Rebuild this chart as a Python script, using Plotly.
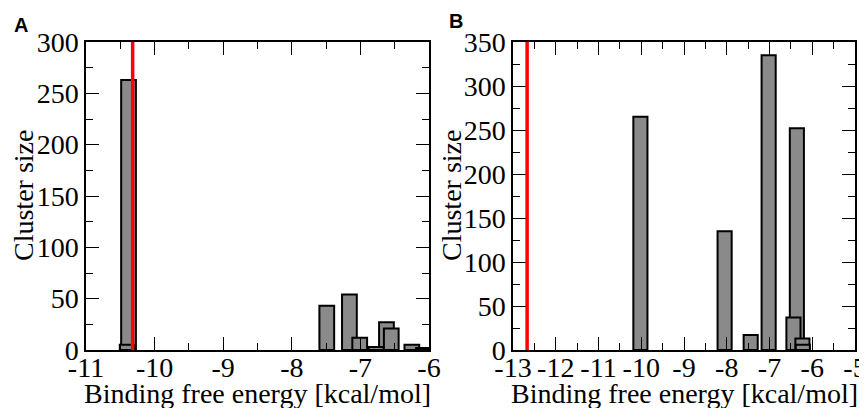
import plotly.graph_objects as go

# Panel A data
a_energy = [-10.40, -10.38, -7.49, -7.16, -7.01, -6.77, -6.62, -6.55, -6.25, -6.08]
a_size = [5, 263, 43, 54, 12, 3, 27, 21, 5, 2]
a_ref_energy = -10.32

# Panel B data
b_energy = [-10.02, -8.05, -7.44, -7.02, -6.36, -6.44, -6.23, -6.22]
b_size = [265, 135, 17, 335, 252, 37, 13, 6]
b_ref_energy = -12.67

a_xticks = [-11, -10, -9, -8, -7, -6]
b_xticks = [-13, -12, -11, -10, -9, -8, -7, -6, -5]
a_yticks = [0, 50, 100, 150, 200, 250, 300]
b_yticks = [0, 50, 100, 150, 200, 250, 300, 350]

BAR_FILL = "#8a8a8a"
FONT = "Liberation Serif"
TICK_SIZE = 28
TITLE_SIZE = 28

# page has an 8px body margin; work in page pixels and convert
OFF = 8
W = 867 - OFF
H = 408 - OFF


def px(x):
    return (x - OFF) / W


def py(y):
    return 1 - (y - OFF) / H


def order(xs, ys):
    pairs = sorted(zip(xs, ys), key=lambda p: -p[1])
    return [p[0] for p in pairs], [p[1] for p in pairs]


fig = go.Figure()

ax, ay = order(a_energy, a_size)
fig.add_trace(go.Bar(x=ax, y=ay, width=0.215, xaxis="x", yaxis="y",
                     marker=dict(color=BAR_FILL, line=dict(color="black", width=2)),
                     showlegend=False))
bx, by = order(b_energy, b_size)
fig.add_trace(go.Bar(x=bx, y=by, width=0.33, xaxis="x2", yaxis="y2",
                     marker=dict(color=BAR_FILL, line=dict(color="black", width=2)),
                     showlegend=False))

y_dom = [py(350), py(42)]

common = dict(showline=True, linecolor="black", linewidth=1.5, mirror="ticks",
              ticks="inside", ticklen=13, tickwidth=1.3, tickcolor="black",
              showgrid=False, zeroline=False, automargin=False,
              tickfont=dict(family=FONT, size=TICK_SIZE, color="black"))
minor_x = dict(ticks="inside", ticklen=7, tickwidth=1.3, tickcolor="black", dtick=0.5, showgrid=False)
minor_y = dict(ticks="inside", ticklen=7, tickwidth=1.3, tickcolor="black", dtick=25, showgrid=False)


def labels(vals):
    return [str(v) for v in vals]


fig.update_layout(
    width=W, height=H,
    margin=dict(l=0, r=0, t=0, b=0),
    paper_bgcolor="white", plot_bgcolor="white",
    barmode="overlay",
    xaxis=dict(domain=[px(86), px(429)], range=[-11, -6], tickvals=a_xticks,
               ticktext=labels(a_xticks), anchor="y", minor=minor_x,
               ticklabelstandoff=-8, **common),
    yaxis=dict(domain=y_dom, range=[0, 300], tickvals=a_yticks, ticktext=labels(a_yticks),
               anchor="x", minor=minor_y, **common),
    xaxis2=dict(domain=[px(513), px(855)], range=[-13, -5], tickvals=b_xticks,
                ticktext=labels(b_xticks), anchor="y2", minor=minor_x,
                ticklabelstandoff=-8, **common),
    yaxis2=dict(domain=y_dom, range=[0, 350], tickvals=b_yticks, ticktext=labels(b_yticks),
                anchor="x2", minor=minor_y, **common),
    shapes=[
        dict(type="line", xref="x", yref="y domain", x0=a_ref_energy, x1=a_ref_energy,
             y0=0, y1=1, line=dict(color="red", width=3.5)),
        dict(type="line", xref="x2", yref="y2 domain", x0=b_ref_energy, x1=b_ref_energy,
             y0=0, y1=1, line=dict(color="red", width=3.5)),
    ],
    annotations=[
        dict(text="<b>A</b>", x=px(12), y=py(25), xref="paper", yref="paper",
             xanchor="left", yanchor="middle", showarrow=False,
             font=dict(family="Liberation Sans", size=20, color="black")),
        dict(text="<b>B</b>", x=px(447), y=py(21), xref="paper", yref="paper",
             xanchor="left", yanchor="middle", showarrow=False,
             font=dict(family="Liberation Sans", size=20, color="black")),
        dict(text="Cluster size", x=px(23), y=(y_dom[0] + y_dom[1]) / 2, xref="paper", yref="paper",
             textangle=-90, showarrow=False, xanchor="center", yanchor="middle",
             font=dict(family=FONT, size=TITLE_SIZE, color="black")),
        dict(text="Cluster size", x=px(451), y=(y_dom[0] + y_dom[1]) / 2, xref="paper", yref="paper",
             textangle=-90, showarrow=False, xanchor="center", yanchor="middle",
             font=dict(family=FONT, size=TITLE_SIZE, color="black")),
        dict(text="Binding free energy [kcal/mol]", x=(px(86) + px(429)) / 2, y=py(393),
             xref="paper", yref="paper", showarrow=False, xanchor="center", yanchor="middle",
             font=dict(family=FONT, size=TITLE_SIZE, color="black")),
        dict(text="Binding free energy [kcal/mol]", x=(px(513) + px(855)) / 2, y=py(393),
             xref="paper", yref="paper", showarrow=False, xanchor="center", yanchor="middle",
             font=dict(family=FONT, size=TITLE_SIZE, color="black")),
    ],
)

fig.write_html("out.html")
